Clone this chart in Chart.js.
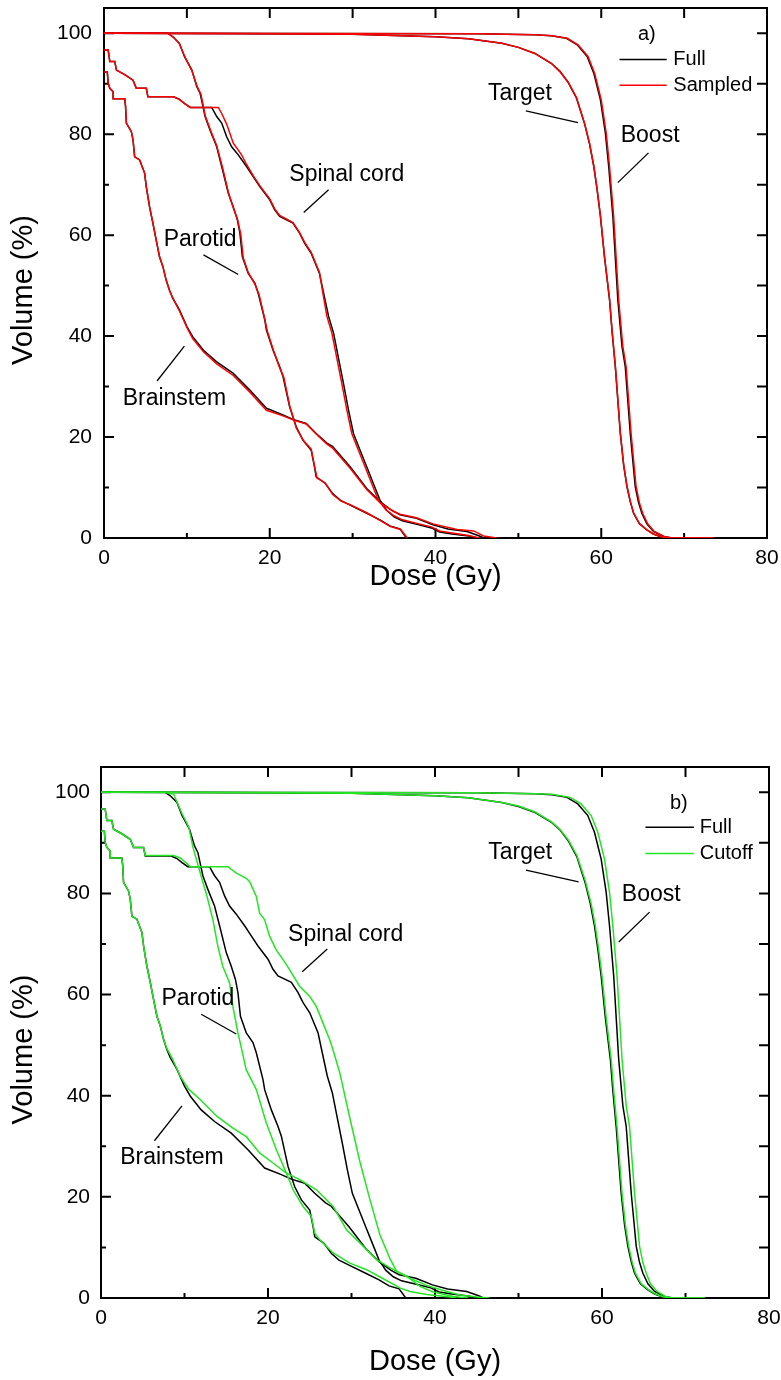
<!DOCTYPE html>
<html>
<head>
<meta charset="utf-8">
<script src="https://cdn.jsdelivr.net/npm/chart.js@4"></script>
<style>
  body { margin: 0; background: #fff; width: 781px; height: 1380px; position: relative; overflow: hidden; }
  canvas { position: absolute; left: 0; }
  #chartA { top: -30px; }
  #chartB { top: 700px; }
</style>
</head>
<body>
<canvas id="chartA" width="800" height="630"></canvas>
<canvas id="chartB" width="800" height="680"></canvas>
<script>
// axis ticks
const doseLabels = [0, 20, 40, 60, 80];
const volumeLabels = [0, 20, 40, 60, 80, 100];
const doseMarks = [10, 20, 30, 40, 50, 60, 70];
const volumeMarks = [10, 20, 30, 40, 50, 60, 70, 80, 90, 100];

// DVH curves [dose Gy, volume %] - full calculation
const fullTarget = [[0,100],[20,99.9],[30,99.8],[36,99.5],[40,99.3],[44,98.9],[48,98],[50,97.2],[52,96],[54,94],[55,92.5],[56,90.3],[57,87.2],[58,82],[58.6,78],[59.1,73.6],[59.5,69],[59.9,63.7],[60.4,55.5],[61,47.2],[61.3,41],[61.7,33.9],[62.3,20.7],[62.7,14.5],[63.1,10.2],[63.5,7.2],[63.9,4.9],[64.6,2.8],[65.5,1.6],[66.3,0.8],[67.1,0.3],[67.9,0]];
const fullBoost = [[0,100],[45,99.9],[52,99.7],[54,99.5],[55.8,99],[57.1,97.7],[58.3,95.4],[59.1,92.1],[59.9,86.8],[60.5,80.2],[60.9,73.6],[61.4,63.7],[62,47.2],[62.5,38],[62.9,33.9],[63.5,20.7],[64.1,10.2],[64.5,7],[64.9,4.9],[65.5,2.8],[66.3,1.3],[67.5,0.3],[68.5,0]];
const fullSpinal = [[0,96.7],[0.5,96.7],[0.7,94.4],[1.3,94.4],[1.5,92.7],[2.5,91.8],[3.5,90.7],[3.9,89.1],[5.1,89.1],[5.3,87.4],[8.4,87.4],[9.1,86.9],[9.7,86.1],[10.4,85.3],[13,85.3],[13.6,83.5],[14.2,82.2],[14.8,79.5],[15.4,77.5],[16.2,75.9],[17.2,73.6],[18,71.6],[18.8,69.6],[20,67],[20.6,65],[21.2,63.7],[22.8,62.4],[23.6,60.4],[24.2,58.4],[25,56.4],[26,52.4],[26.5,48.5],[27.1,43.9],[27.7,40.6],[28.9,30.6],[29.5,25.4],[30.1,20.7],[30.9,17.4],[31.7,14.1],[32.5,10.8],[33.3,7.5],[34.1,5.5],[35,4.2],[36,3.4],[38,2.6],[39.5,2],[40.5,1.2],[42,0.8],[44,0.4],[45,0]];
const fullParotid = [[0,100],[7.7,100],[8.3,99.3],[9.1,98],[9.7,95.4],[10.6,92.7],[11.2,89.4],[11.6,88.1],[12.2,83.5],[12.8,80.8],[13.6,77.5],[14.2,73.6],[15,68.3],[15.6,65.6],[16.1,63],[16.4,60.4],[16.7,55.7],[17.4,52.4],[18.2,50.5],[18.6,48.5],[19.4,43.2],[19.6,41.2],[20.4,37.2],[21.2,33.9],[21.6,32],[22.4,26],[23.2,22],[24,19.4],[25,17.4],[25.4,14.1],[25.6,12.1],[26.7,10.8],[27.6,8.8],[28.5,7.5],[29.7,6.5],[31.7,4.9],[33.3,3.6],[34.5,2.4],[35.7,1.8],[36.5,0]];
const fullBrainstem = [[0,92.3],[0.4,92.3],[0.5,90.1],[0.7,89.1],[1.1,88.4],[1.1,87],[2.5,87],[2.6,85.5],[2.7,82.2],[3.3,80.5],[3.5,78.9],[3.7,75.5],[4.3,74.9],[4.9,72.3],[5.1,69.6],[5.5,65.6],[5.9,62.4],[6.3,59],[6.7,55.7],[7.1,53.8],[7.5,51.1],[7.9,49.1],[8.3,47.5],[9.1,45.2],[10,41.9],[10.7,39.9],[12,37.2],[13.6,34.9],[15.6,32.6],[17.6,29.3],[19.6,25.7],[21.6,24.4],[22.8,23.5],[24.4,22.7],[25.6,20.7],[26.9,18.8],[27.6,18.1],[29.7,14.1],[31.7,9.8],[33.3,7.2],[34.7,5.5],[35.7,4.6],[37.7,3.9],[39.7,2.6],[41.5,1.8],[43.8,1.3],[45.3,0.4],[45.8,0]];

// sampled calculation (panel a)
const sampledTarget = [[0,100],[20,99.9],[30,99.8],[36,99.5],[40,99.3],[44,98.9],[48,98],[50,97.2],[52,96],[54,94],[55,92.4],[56,90.3],[57,87.3],[58,82.1],[58.6,78.1],[59.1,73.7],[59.5,69.1],[59.9,63.9],[60.4,55.7],[61,47.4],[61.3,41.2],[61.7,34.1],[62.3,20.9],[62.7,14.6],[63.1,10.3],[63.5,7.3],[63.9,5],[64.6,2.9],[65.5,1.6],[66.3,0.8],[67.1,0.3],[67.9,0],[73.5,0]];
const sampledBoost = [[0,100],[45,99.9],[52,99.7],[54,99.5],[55.9,99],[57.2,97.7],[58.4,95.4],[59.2,92.1],[60,86.8],[60.6,80.2],[61,73.6],[61.5,63.7],[62.1,47.2],[62.6,38],[63,33.9],[63.6,20.7],[64.2,10.2],[64.6,7],[65,4.9],[65.6,2.8],[66.4,1.3],[67.6,0.3],[68.6,0],[73.5,0]];
const sampledSpinal = [[0,96.7],[0.5,96.7],[0.7,94.4],[1.3,94.4],[1.5,92.7],[2.5,91.8],[3.5,90.7],[3.9,89.1],[5.1,89.1],[5.3,87.4],[8.4,87.4],[9.1,86.9],[9.7,86.1],[10.4,85.3],[13.8,85.3],[14.2,84.1],[14.8,82],[15.6,78.2],[16.6,75.9],[17.2,74],[18,71.8],[18.8,69.8],[20,67.2],[20.6,65.2],[21.2,63.9],[22.8,62.5],[23.6,60.5],[24.2,58.6],[25,56.6],[26,52.6],[26.4,48.6],[26.9,43.9],[27.5,40.6],[28.7,30.6],[29.3,25.4],[29.9,20.7],[30.7,17.4],[31.5,14.1],[32.3,10.8],[33.1,7.5],[34,5.6],[35,4.4],[36,3.6],[38,2.8],[39.5,2.2],[40.5,1.4],[42,1],[44,0.5],[45.3,0]];
const sampledParotid = [[0,100],[7.7,100],[8.4,99.2],[9.1,97.9],[9.8,95.2],[10.6,92.6],[11.2,89.6],[11.7,87.9],[12.2,83.7],[12.9,80.6],[13.6,77.7],[14.3,73.4],[15,68.5],[15.6,65.4],[16.1,63.2],[16.5,60.2],[16.8,55.5],[17.4,52.6],[18.2,50.3],[18.7,48.3],[19.4,43.4],[19.7,41],[20.4,37.4],[21.2,33.7],[21.7,31.8],[22.4,26.2],[23.2,21.8],[24.1,19.2],[25,17.6],[25.4,14.3],[25.7,11.9],[26.7,10.9],[27.6,8.6],[28.6,7.3],[29.7,6.6],[31.7,5],[33.3,3.5],[34.5,2.3],[35.8,1.7],[36.6,0]];
const sampledBrainstem = [[0,92.3],[0.4,92.3],[0.5,90.1],[0.7,89.1],[1.1,88.4],[1.1,87],[2.5,87],[2.6,85.5],[2.7,82.2],[3.3,80.5],[3.5,78.9],[3.7,75.5],[4.3,74.9],[4.9,72.3],[5.1,69.6],[5.5,65.6],[5.9,62.4],[6.3,59],[6.7,55.7],[7.1,53.8],[7.5,51.1],[7.9,49.1],[8.3,47.5],[9.1,45],[10,41.7],[10.7,39.5],[12,36.9],[13.6,34.5],[15.6,32.2],[17.6,28.9],[19.6,25.3],[21.6,24.2],[22.8,23.4],[24.4,22.6],[25.6,20.6],[26.9,18.6],[27.6,17.8],[29.7,13.8],[31.7,9.6],[33.3,7],[34.9,5.3],[35.7,4.7],[37.7,4],[39.7,2.8],[42.6,1.7],[44.6,1.4],[45.8,0.4],[47.4,0]];

// cutoff calculation (panel b)
const cutoffTarget = [[0,100],[20,99.9],[30,99.8],[36,99.5],[40,99.3],[44,98.9],[48,98],[50,97.3],[52,96.1],[54,94.1],[55,92.6],[56,90.5],[57,87.5],[58,82.5],[58.7,78],[59.2,73.6],[59.6,69],[60,63.7],[60.5,55.5],[61.1,47.2],[61.4,41],[61.8,33.9],[62.4,20.7],[62.8,14.5],[63.2,10.2],[63.6,7.2],[64,4.9],[64.7,2.8],[65.6,1.6],[66.4,0.8],[67.2,0.3],[68,0],[72.3,0]];
const cutoffBoost = [[0,100],[45,99.9],[52,99.7],[54,99.6],[56.2,99],[57.5,97.7],[58.7,95.4],[59.5,92.1],[60.3,86.8],[60.9,80.2],[61.3,73.6],[61.8,63.7],[62.4,47.2],[62.9,38],[63.3,33.9],[63.9,20.7],[64.5,10.2],[64.9,7],[65.3,4.9],[65.8,2.8],[66.6,1.3],[67.6,0.3],[68.5,0],[72.3,0]];
const cutoffSpinal = [[0,96.7],[0.5,96.7],[0.7,94.4],[1.3,94.4],[1.5,92.7],[2.5,91.8],[3.5,90.7],[3.9,89.1],[5.1,89.1],[5.3,87.5],[8.7,87.5],[9.5,87],[10.7,85.3],[15.2,85.3],[16.2,84],[17.4,83],[17.8,82.3],[18.6,79.4],[19,76.1],[19.6,74.8],[20.2,71.5],[21,68.8],[21.8,66.9],[22.6,64.9],[23.8,61.6],[25,59.6],[25.8,57.6],[26.6,54.3],[27.4,51],[27.8,49],[28.6,44.5],[29.8,35.6],[31,27],[32.2,19.5],[33.4,12.5],[34.6,7.8],[35.4,5.3],[36.6,4.3],[38.2,2.3],[39.8,1.2],[42.2,0.3],[44,0]];
const cutoffParotid = [[0,100],[7.7,100],[8.7,99.6],[9.7,95.8],[10.5,93.2],[11,89.2],[11.9,84],[12.7,79.4],[13.4,74.8],[14,69.5],[14.6,65.5],[15.4,62.3],[15.8,57.6],[16.4,52.4],[16.6,51],[17.4,45.1],[18.6,41.2],[19.8,34.6],[21,29.3],[22.2,24.7],[23,21.4],[24.2,18.1],[25.2,16.1],[25.6,12.8],[26.2,11.5],[27.8,8.9],[29.8,6.9],[31.8,5.6],[33.8,3.8],[35.8,2],[37,1.3],[39,0.7],[41.8,0.2],[42.5,0]];
const cutoffBrainstem = [[0,92.3],[0.4,92.3],[0.5,90.1],[0.7,89.1],[1.1,88.4],[1.1,87],[2.5,87],[2.6,85.5],[2.7,82.2],[3.3,80.5],[3.5,78.9],[3.7,75.5],[4.3,74.9],[4.9,72.3],[5.1,69.6],[5.5,65.6],[5.9,62.4],[6.3,59],[6.7,55.7],[7.1,53.8],[7.5,51.1],[7.9,49.3],[8.5,47.5],[9.5,43.8],[10.5,41.3],[11.9,39.2],[13.9,35.9],[15.8,33.6],[17.4,31.9],[19,28.7],[20.6,26.7],[22.2,24.7],[23.8,23.4],[25.8,21.4],[27.8,18.1],[29.4,13.5],[31,10.9],[33,7.6],[35,5.6],[37,3.9],[39,2.5],[41,1.5],[43,0.6],[45,0.2],[46.5,0]];

// structure labels
const structureNames = ['Target', 'Boost', 'Spinal cord', 'Parotid', 'Brainstem'];

Chart.defaults.font.family = "'Liberation Sans', Arial, sans-serif";
Chart.defaults.color = '#000';

function toPoints(arr) {
  return arr.map(p => ({ x: p[0], y: p[1] }));
}

function series(arr, color) {
  return {
    data: toPoints(arr),
    showLine: true,
    borderColor: color,
    borderWidth: 1.5,
    pointRadius: 0,
    tension: 0,
    fill: false
  };
}

const dvhPlugin = {
  id: 'dvh',
  beforeDatasetsDraw(chart) {
    const { ctx, chartArea: a, scales: { x, y } } = chart;
    ctx.save();
    ctx.strokeStyle = '#000';
    ctx.lineWidth = 2;
    ctx.strokeRect(a.left, a.top, a.right - a.left, a.bottom - a.top);
    ctx.beginPath();
    doseMarks.forEach(d => {
      const px = x.getPixelForValue(d);
      ctx.moveTo(px, a.bottom);
      ctx.lineTo(px, a.bottom - (d % 20 === 0 ? 10 : 5));
      ctx.moveTo(px, a.top);
      ctx.lineTo(px, a.top + 10);
    });
    volumeMarks.forEach(v => {
      const py = y.getPixelForValue(v);
      ctx.moveTo(a.left, py);
      ctx.lineTo(a.left + (v % 20 === 0 ? 10 : 5), py);
      ctx.moveTo(a.right, py);
      ctx.lineTo(a.right - 10, py);
    });
    ctx.stroke();
    ctx.restore();
  },
  afterDraw(chart, args, opts) {
    const { ctx, chartArea: a, scales: { x, y } } = chart;
    const X = v => x.getPixelForValue(v);
    const Y = v => y.getPixelForValue(v);
    ctx.save();
    ctx.fillStyle = '#000';
    ctx.strokeStyle = '#000';
    ctx.textBaseline = 'middle';

    // structure names + pointer lines
    ctx.font = "23px 'Liberation Sans', Arial, sans-serif";
    ctx.textAlign = 'center';
    ctx.lineWidth = 1.3;
    opts.names.forEach((n, i) => {
      const t = opts.namePos[i];
      ctx.fillText(n, X(t[0]), Y(t[1]));
      const l = opts.pointers[i];
      ctx.beginPath();
      ctx.moveTo(X(l[0]), Y(l[1]));
      ctx.lineTo(X(l[2]), Y(l[3]));
      ctx.stroke();
    });

    // panel letter and legend
    ctx.font = "20px 'Liberation Sans', Arial, sans-serif";
    ctx.fillText(opts.letter, X(opts.letterPos[0]), Y(opts.letterPos[1]));
    ctx.textAlign = 'left';
    opts.legend.forEach((item, i) => {
      const ly = Y(opts.legendY[i]);
      ctx.strokeStyle = item.color;
      ctx.lineWidth = 1.5;
      ctx.beginPath();
      ctx.moveTo(X(opts.legendX[0]), ly);
      ctx.lineTo(X(opts.legendX[1]), ly);
      ctx.stroke();
      ctx.fillText(item.text, X(opts.legendX[2]), ly);
    });

    // axis titles
    ctx.font = "29px 'Liberation Sans', Arial, sans-serif";
    ctx.textAlign = 'center';
    ctx.fillText('Dose (Gy)', (a.left + a.right) / 2, opts.doseTitleY);
    ctx.translate(24, (a.top + a.bottom) / 2 + 17);
    ctx.rotate(-Math.PI / 2);
    ctx.fillText('Volume (%)', 0, 0);
    ctx.restore();
  }
};

function makeChart(id, datasets, panel) {
  return new Chart(document.getElementById(id), {
    type: 'scatter',
    data: { datasets: datasets },
    plugins: [dvhPlugin],
    options: {
      responsive: false,
      animation: false,
      devicePixelRatio: 1,
      layout: { padding: { top: panel.padTop, right: panel.padRight, left: 0, bottom: 0 } },
      plugins: {
        legend: { display: false },
        tooltip: { enabled: false },
        dvh: panel.labels
      },
      scales: {
        x: {
          type: 'linear', min: 0, max: 80,
          grid: { display: false, drawTicks: false },
          border: { display: false },
          afterBuildTicks: s => { s.ticks = doseLabels.map(v => ({ value: v })); },
          afterFit: s => { s.height = panel.xHeight; },
          ticks: { font: { size: 21 }, padding: panel.xPad, maxRotation: 0 }
        },
        y: {
          type: 'linear', min: 0, max: 105,
          grid: { display: false, drawTicks: false },
          border: { display: false },
          afterBuildTicks: s => { s.ticks = volumeLabels.map(v => ({ value: v })); },
          afterFit: s => { s.width = panel.yWidth; },
          ticks: { font: { size: 21 }, padding: panel.yPad }
        }
      }
    }
  });
}

const namePos = [[50.2, 88.1], [65.9, 79.8], [29.3, 71.9], [11.6, 59.2], [8.5, 27.7]];
const pointers = [[50.9, 84.6, 57.2, 82.3], [65.7, 76.3, 62, 70.4], [27.1, 69, 24.1, 64.5], [12, 56.1, 16.2, 52.2], [6.4, 31.1, 9.7, 38]];

makeChart('chartA', [
  series(sampledTarget, '#ff0000'), series(sampledBoost, '#ff0000'), series(sampledSpinal, '#ff0000'),
  series(sampledParotid, '#ff0000'), series(sampledBrainstem, '#ff0000'),
  series(fullTarget, '#000000'), series(fullBoost, '#000000'), series(fullSpinal, '#000000'),
  series(fullParotid, '#000000'), series(fullBrainstem, '#000000')
], {
  padTop: 38, padRight: 33, yWidth: 104, xHeight: 62, xPad: 8, yPad: 12,
  labels: {
    names: structureNames, namePos: namePos, pointers: pointers,
    letter: 'a)', letterPos: [65.5, 99.7],
    legend: [{ text: 'Full', color: '#000000' }, { text: 'Sampled', color: '#ff0000' }],
    legendX: [62.2, 67.9, 68.7], legendY: [94.8, 89.7],
    doseTitleY: 607
  }
});

makeChart('chartB', [
  series(cutoffTarget, '#22e622'), series(cutoffBoost, '#22e622'), series(cutoffSpinal, '#22e622'),
  series(cutoffParotid, '#22e622'), series(cutoffBrainstem, '#22e622'),
  series(fullTarget, '#000000'), series(fullBoost, '#000000'), series(fullSpinal, '#000000'),
  series(fullParotid, '#000000'), series(fullBrainstem, '#000000')
], {
  padTop: 67, padRight: 31, yWidth: 101, xHeight: 82, xPad: 8, yPad: 11,
  labels: {
    names: structureNames, namePos: namePos, pointers: pointers,
    letter: 'b)', letterPos: [69.2, 97.8],
    legend: [{ text: 'Full', color: '#000000' }, { text: 'Cutoff', color: '#22e622' }],
    legendX: [65.2, 71, 71.7], legendY: [93.1, 87.9],
    doseTitleY: 662
  }
});
</script>
</body>
</html>
